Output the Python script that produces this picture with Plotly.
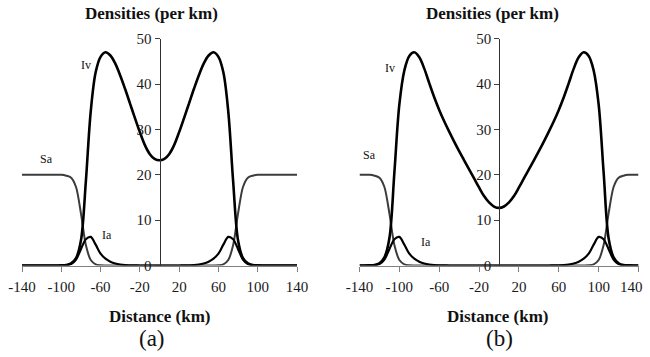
import plotly.graph_objects as go

# ---------------- data ----------------
distance = [-140, -135, -130, -125, -120, -115, -110, -105, -100, -95, -90, -85, -80, -75, -70,
            -65, -60, -55, -50, -45, -40, -35, -30, -25, -20, -15, -10, -5, 0,
            5, 10, 15, 20, 25, 30, 35, 40, 45, 50, 55, 60, 65, 70, 75, 80, 85, 90, 95, 100,
            105, 110, 115, 120, 125, 130, 135, 140]

# panel (a)
sa_a = [20, 20, 20, 20, 20, 20, 20, 20, 20, 19.8, 19.35, 17.3, 11.5, 4.5, 1.2,
        0.26, 0.06, 0.01, 0, 0, 0, 0, 0, 0, 0, 0, 0, 0, 0,
        0, 0, 0, 0, 0, 0, 0, 0, 0, 0, 0.01, 0.06, 0.26, 1.2, 4.5, 11.5, 17.3, 19.35, 19.8, 20,
        20, 20, 20, 20, 20, 20, 20, 20]
ia_a = [0, 0, 0, 0, 0, 0, 0, 0, 0, 0.05, 0.3, 1.3, 3.6, 5.8, 6.3,
        4.6, 2.6, 1.5, 0.85, 0.45, 0.22, 0.1, 0.05, 0.02, 0, 0, 0, 0, 0,
        0, 0, 0, 0, 0.02, 0.05, 0.1, 0.22, 0.45, 0.85, 1.5, 2.6, 4.6, 6.3, 5.8, 3.6, 1.3, 0.3, 0.05, 0,
        0, 0, 0, 0, 0, 0, 0, 0]
iv_a = [0, 0, 0, 0, 0, 0, 0, 0, 0.02, 0.1, 0.45, 1.6, 5.5, 18.5, 34.0,
        42.6, 46.0, 47.0, 46.3, 44.5, 41.9, 38.9, 35.7, 32.5, 29.4, 26.6, 24.6, 23.5, 23.2,
        23.5, 24.6, 26.6, 29.4, 32.5, 35.7, 38.9, 41.9, 44.5, 46.3, 47.0, 46.0, 42.6, 34.0, 18.5, 5.5, 1.6, 0.45, 0.1, 0.02,
        0, 0, 0, 0, 0, 0, 0, 0]

# panel (b)
sa_b = [20, 20, 19.98, 19.8, 19.35, 17.3, 11.5, 4.5, 1.2, 0.26, 0.06, 0.01, 0, 0, 0,
        0, 0, 0, 0, 0, 0, 0, 0, 0, 0, 0, 0, 0, 0,
        0, 0, 0, 0, 0, 0, 0, 0, 0, 0, 0, 0, 0, 0, 0, 0, 0.01, 0.06, 0.26, 1.2,
        4.5, 11.5, 17.3, 19.35, 19.8, 19.98, 20, 20]
ia_b = [0, 0, 0.02, 0.05, 0.3, 1.3, 3.6, 5.8, 6.3, 4.6, 2.6, 1.5, 0.85, 0.45, 0.22,
        0.1, 0.05, 0.02, 0, 0, 0, 0, 0, 0, 0, 0, 0, 0, 0,
        0, 0, 0, 0, 0, 0, 0, 0, 0, 0, 0.02, 0.05, 0.1, 0.22, 0.45, 0.85, 1.5, 2.6, 4.6, 6.3,
        5.8, 3.6, 1.3, 0.3, 0.05, 0.02, 0, 0]
iv_b = [0, 0, 0.02, 0.1, 0.5, 1.8, 6.0, 20.5, 35.5, 43.0, 46.2, 47.0, 45.9, 43.4, 40.2,
        37.1, 34.3, 31.8, 29.5, 27.3, 25.2, 23.2, 21.2, 19.2, 17.2, 15.3, 13.9, 13.0, 12.7,
        13.0, 13.9, 15.3, 17.2, 19.2, 21.2, 23.2, 25.2, 27.3, 29.5, 31.8, 34.3, 37.1, 40.2, 43.4, 45.9, 47.0, 46.2, 43.0, 35.5,
        20.5, 6.0, 1.8, 0.5, 0.1, 0.02, 0, 0]

x_ticks = [-140, -100, -60, -20, 20, 60, 100, 140]
x_ticktext = ["-140", "-100", "-60", "-20", "20", "60", "100", "140"]
y_ticks = [0, 10, 20, 30, 40, 50]
panel_labels = ["(a)", "(b)"]
y_title = "Densities (per km)"
x_title = "Distance (km)"

# ---------------- figure ----------------
FONT = "Liberation Serif, Times New Roman, Times, serif"
fig = go.Figure()

def add_panel(sa, ia, iv, xa, ya):
    fig.add_trace(go.Scatter(x=distance, y=sa, mode="lines", xaxis=xa, yaxis=ya,
                             line=dict(color="#3c3c3c", width=2, shape="spline", smoothing=0.8),
                             showlegend=False, hoverinfo="skip"))
    fig.add_trace(go.Scatter(x=distance, y=ia, mode="lines", xaxis=xa, yaxis=ya,
                             line=dict(color="#000000", width=2.2, shape="spline", smoothing=0.8),
                             showlegend=False, hoverinfo="skip"))
    fig.add_trace(go.Scatter(x=distance, y=iv, mode="lines", xaxis=xa, yaxis=ya,
                             line=dict(color="#000000", width=2.6, shape="spline", smoothing=1.0),
                             showlegend=False, hoverinfo="skip"))

add_panel(sa_a, ia_a, iv_a, "x", "y")
add_panel(sa_b, ia_b, iv_b, "x2", "y2")

ydom = [1 - 265.5 / 357, 1 - 38.7 / 357]
xdom_a = [22 / 650, 297 / 650]
xdom_b = [359.5 / 650, 638.5 / 650]

xcommon = dict(range=[-140, 140], tickvals=x_ticks, ticks="outside", ticklen=5,
               tickcolor="#808080", showline=True, linecolor="#808080", linewidth=1,
               showgrid=False, zeroline=False, ticklabelstandoff=2, automargin=False,
               tickfont=dict(family=FONT, size=15, color="#1a1a1a"))
ycommon = dict(range=[0, 50], tickvals=y_ticks, ticks="outside", ticklen=5,
               tickcolor="#404040", showline=True, linecolor="#303030", linewidth=1,
               showgrid=False, zeroline=False, anchor="free", automargin=False,
               tickfont=dict(family=FONT, size=15, color="#1a1a1a"))

fig.update_layout(
    template="none",
    width=650, height=357,
    margin=dict(l=0, r=0, t=0, b=0, autoexpand=False),
    paper_bgcolor="white", plot_bgcolor="rgba(0,0,0,0)",
    xaxis=dict(domain=xdom_a, anchor="y", ticktext=x_ticktext, **xcommon),
    yaxis=dict(domain=ydom, position=159.5 / 650, **ycommon),
    xaxis2=dict(domain=xdom_b, anchor="y2", ticktext=x_ticktext[:-1] + [""], **xcommon),
    yaxis2=dict(domain=ydom, position=499.3 / 650, **ycommon),
)

ann = []
# curve labels (data coords)
for xa, ya, labels in [("x", "y", [("Iv", -74.8, 44.2), ("Sa", -114.9, 23.4), ("Ia", -53.2, 6.8)]),
                       ("x2", "y2", [("Iv", -109, 43.5), ("Sa", -129.8, 24.3), ("Ia", -73.6, 5.2)])]:
    for t, xv, yv in labels:
        ann.append(dict(text=t, x=xv, y=yv, xref=xa, yref=ya, showarrow=False,
                        font=dict(family=FONT, size=12, color="#111111")))

# last tick label of panel (b), pulled inside the picture as in the reference
ann.append(dict(text=x_ticktext[-1], x=631 / 650, y=1 - 287 / 357, xref="paper", yref="paper",
                showarrow=False, xanchor="center", yanchor="middle",
                font=dict(family=FONT, size=15, color="#1a1a1a")))

for cx_t, cx_x, cx_l, lab in [(151.7, 160, 151.7, panel_labels[0]), (492.2, 498, 499, panel_labels[1])]:
    ann.append(dict(text="<b>%s</b>" % y_title, x=cx_t / 650, y=1 - 14 / 357, xref="paper", yref="paper",
                    showarrow=False, xanchor="center", yanchor="middle",
                    font=dict(family=FONT, size=17, color="#111111")))
    ann.append(dict(text="<b>%s</b>" % x_title, x=cx_x / 650, y=1 - 316.7 / 357, xref="paper", yref="paper",
                    showarrow=False, xanchor="center", yanchor="middle",
                    font=dict(family=FONT, size=17, color="#111111")))
    ann.append(dict(text=lab, x=cx_l / 650, y=1 - 338 / 357, xref="paper", yref="paper",
                    showarrow=False, xanchor="center", yanchor="middle",
                    font=dict(family=FONT, size=23, color="#111111")))

fig.update_layout(annotations=ann)

# remove the page's default body margin so the 650x357 figure fills the window exactly
fig.write_html("out.html",
               config={"displayModeBar": False},
               post_script="document.body.style.margin='0';document.body.style.padding='0';"
                           "document.body.style.overflow='hidden';")
